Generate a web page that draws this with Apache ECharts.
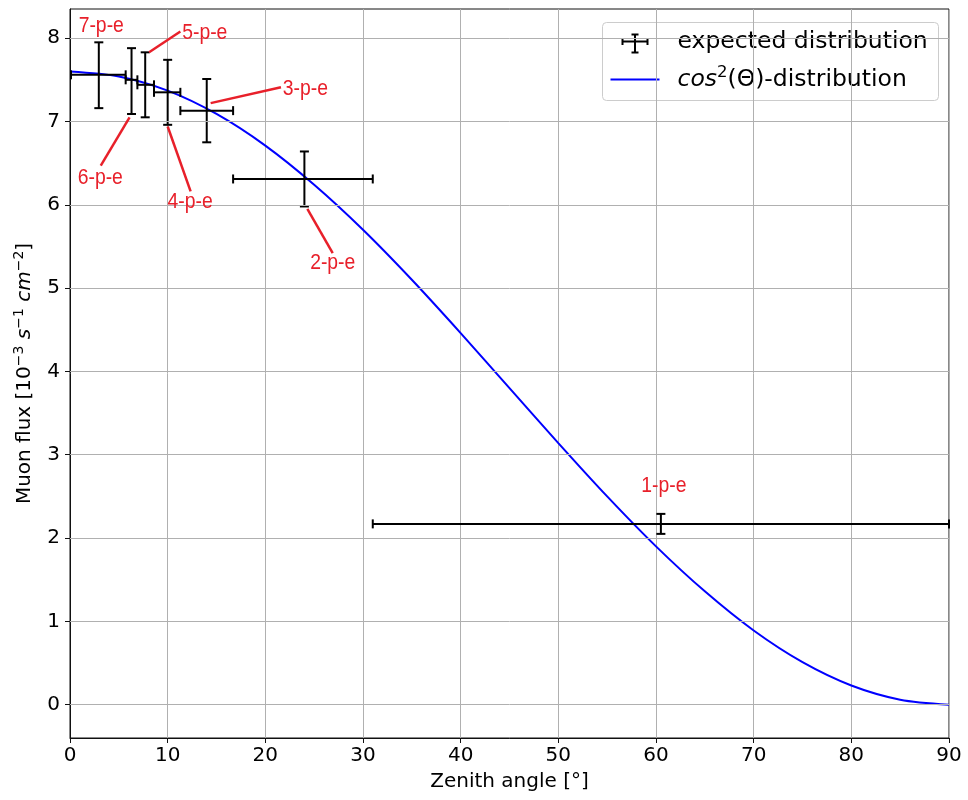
<!DOCTYPE html>
<html>
<head>
<meta charset="utf-8">
<script src="https://cdn.jsdelivr.net/npm/echarts@6/dist/echarts.min.js"></script>
<style>
  html, body { margin: 0; background: #fff; }
  #chart { width: 968px; height: 800px; }
</style>
</head>
<body>
<div id="chart"></div>
<script>
// cos^2 curve, every 5 degrees
const curveAngle = [0, 5, 10, 15, 20, 25, 30, 35, 40, 45, 50, 55, 60, 65, 70, 75, 80, 85, 90];
const curveFlux = [7.60, 7.54, 7.37, 7.09, 6.71, 6.24, 5.70, 5.10, 4.46, 3.80, 3.14, 2.50, 1.90, 1.36, 0.89, 0.51, 0.23, 0.06, 0.00];

// measured points (1-p-e ... 7-p-e)
const peLabels = ['1-p-e', '2-p-e', '3-p-e', '4-p-e', '5-p-e', '6-p-e', '7-p-e'];
const angle = [60.5, 24.0, 14.0, 10.0, 7.7, 6.3, 2.95];
const angleLow = [31.0, 16.7, 11.3, 8.6, 6.9, 5.7, 0.1];
const angleHigh = [90.0, 31.0, 16.7, 11.3, 8.6, 6.9, 5.7];
const flux = [2.17, 6.31, 7.13, 7.35, 7.44, 7.50, 7.56];
const fluxLow = [2.05, 5.98, 6.75, 6.96, 7.05, 7.09, 7.16];
const fluxHigh = [2.29, 6.64, 7.51, 7.74, 7.83, 7.88, 7.95];

// annotation text positions and pointer lines (data coords)
const labelAt = [[60.8, 2.62], [26.9, 5.30], [24.1, 7.39], [12.3, 6.03], [13.8, 8.06], [3.1, 6.32], [3.2, 8.15]];
const pointerFrom = [null, [26.9, 5.42], [21.6, 7.41], [12.35, 6.16], [11.3, 8.08], [3.15, 6.47], null];
const pointerTo = [null, [24.3, 5.95], [14.4, 7.22], [10.0, 6.94], [8.1, 7.83], [6.1, 7.05], null];

const xTicks = [0, 10, 20, 30, 40, 50, 60, 70, 80, 90];
const yTicks = [0, 1, 2, 3, 4, 5, 6, 7, 8];

const FONT = 'DejaVu Sans';
const RED = '#e8202a';

const errData = angle.map((a, i) => [a, flux[i], angleLow[i], angleHigh[i], fluxLow[i], fluxHigh[i]]);
const annData = peLabels.map((t, i) => [labelAt[i][0], labelAt[i][1], i]);

const chart = echarts.init(document.getElementById('chart'));

chart.setOption({
  animation: false,
  backgroundColor: '#fff',
  grid: {
    left: 70, right: 19, top: 9, bottom: 62,
    show: true, borderColor: '#111', borderWidth: 1, backgroundColor: 'transparent'
  },
  xAxis: {
    type: 'value',
    min: 0, max: 90, interval: 10,
    name: 'Zenith angle [°]',
    nameLocation: 'middle',
    nameGap: 34,
    nameTextStyle: { fontFamily: FONT, fontSize: 20, color: '#000' },
    axisLine: { show: true, onZero: false, lineStyle: { color: '#111', width: 1 } },
    axisTick: { show: true, length: 5, lineStyle: { color: '#111' } },
    axisLabel: { fontFamily: FONT, fontSize: 20, color: '#000', margin: 8 },
    splitLine: { show: true, lineStyle: { color: '#b0b0b0', width: 1 } }
  },
  yAxis: {
    type: 'value',
    min: -0.4, max: 8.35,
    name: '{n|Muon flux [10}{s|−3}{n| }{i|s}{s|−1}{n| }{i|cm}{s|−2}{n|]}',
    nameLocation: 'middle',
    nameRotate: 90,
    nameGap: 32,
    nameTextStyle: {
      rich: {
        n: { fontFamily: FONT, fontSize: 20, color: '#000', lineHeight: 26 },
        i: { fontFamily: FONT, fontSize: 20, fontStyle: 'italic', color: '#000', lineHeight: 26 },
        s: { fontFamily: FONT, fontSize: 14, color: '#000', lineHeight: 14, verticalAlign: 'top' }
      }
    },
    axisLine: { show: true, onZero: false, lineStyle: { color: '#111', width: 1 } },
    axisTick: { show: true, length: 5, customValues: yTicks, lineStyle: { color: '#111' } },
    axisLabel: { fontFamily: FONT, fontSize: 20, color: '#000', margin: 10, customValues: yTicks },
    splitLine: { show: false }
  },
  series: [
    {
      // horizontal grid lines at the y ticks
      type: 'line',
      data: [],
      z: 1,
      silent: true,
      markLine: {
        silent: true,
        symbol: 'none',
        label: { show: false },
        lineStyle: { color: '#b0b0b0', width: 1, type: 'solid' },
        data: yTicks.map(v => ({ yAxis: v }))
      }
    },
    {
      name: 'cos2',
      type: 'line',
      data: curveAngle.map((a, i) => [a, curveFlux[i]]),
      smooth: 0.3,
      showSymbol: false,
      z: 3,
      lineStyle: { color: '#0000ff', width: 2 }
    },
    {
      name: 'expected distribution',
      type: 'custom',
      z: 4,
      data: errData,
      encode: { x: [0, 2, 3], y: [1, 4, 5] },
      renderItem: function (params, api) {
        const c = api.coord([api.value(0), api.value(1)]);
        const l = api.coord([api.value(2), api.value(1)]);
        const r = api.coord([api.value(3), api.value(1)]);
        const b = api.coord([api.value(0), api.value(4)]);
        const t = api.coord([api.value(0), api.value(5)]);
        const cap = 4.5;
        const st = { stroke: '#000', lineWidth: 2 };
        const seg = (x1, y1, x2, y2) => ({ type: 'line', shape: { x1, y1, x2, y2 }, style: st });
        return {
          type: 'group',
          children: [
            seg(l[0], c[1], r[0], c[1]),
            seg(l[0], c[1] - cap, l[0], c[1] + cap),
            seg(r[0], c[1] - cap, r[0], c[1] + cap),
            seg(c[0], t[1], c[0], b[1]),
            seg(c[0] - cap, t[1], c[0] + cap, t[1]),
            seg(c[0] - cap, b[1], c[0] + cap, b[1])
          ]
        };
      }
    },
    {
      name: 'annotations',
      type: 'custom',
      z: 5,
      silent: true,
      clip: false,
      data: annData,
      encode: { x: 0, y: 1 },
      renderItem: function (params, api) {
        const i = api.value(2);
        const p = api.coord([api.value(0), api.value(1)]);
        const children = [{
          type: 'text',
          x: p[0], y: p[1],
          scaleX: 0.9,
          style: {
            x: 0, y: 0, text: peLabels[i],
            align: 'center', verticalAlign: 'middle',
            fill: RED, fontSize: 21.5,
            fontFamily: '"Liberation Sans", Arial, sans-serif'
          }
        }];
        if (pointerFrom[i]) {
          const a = api.coord(pointerFrom[i]);
          const b = api.coord(pointerTo[i]);
          children.push({
            type: 'line',
            shape: { x1: a[0], y1: a[1], x2: b[0], y2: b[1] },
            style: { stroke: RED, lineWidth: 2.5 }
          });
        }
        return { type: 'group', children };
      }
    }
  ],
  graphic: [
    {
      type: 'group',
      left: 602, top: 22,
      z: 100,
      children: [
        {
          type: 'rect',
          shape: { x: 0, y: 0, width: 336, height: 78, r: 4 },
          style: { fill: 'rgba(255,255,255,0.8)', stroke: '#cccccc', lineWidth: 1 }
        },
        // error-bar icon
        { type: 'line', shape: { x1: 20, y1: 19, x2: 45, y2: 19 }, style: { stroke: '#000', lineWidth: 2 } },
        { type: 'line', shape: { x1: 20, y1: 15.5, x2: 20, y2: 22.5 }, style: { stroke: '#000', lineWidth: 2 } },
        { type: 'line', shape: { x1: 45, y1: 15.5, x2: 45, y2: 22.5 }, style: { stroke: '#000', lineWidth: 2 } },
        { type: 'line', shape: { x1: 32.5, y1: 12, x2: 32.5, y2: 30 }, style: { stroke: '#000', lineWidth: 2 } },
        { type: 'line', shape: { x1: 29, y1: 12, x2: 36, y2: 12 }, style: { stroke: '#000', lineWidth: 2 } },
        { type: 'line', shape: { x1: 29, y1: 30, x2: 36, y2: 30 }, style: { stroke: '#000', lineWidth: 2 } },
        {
          type: 'text',
          style: {
            x: 75, y: 19, text: 'expected distribution', verticalAlign: 'middle',
            fontFamily: FONT, fontSize: 23.5, fill: '#000'
          }
        },
        // blue line icon
        { type: 'line', shape: { x1: 8, y1: 57, x2: 57, y2: 57 }, style: { stroke: '#0000ff', lineWidth: 2 } },
        {
          type: 'text',
          style: {
            x: 75, y: 57, verticalAlign: 'middle',
            text: '{i|cos}{s|2}{n|(Θ)-distribution}',
            rich: {
              n: { fontFamily: FONT, fontSize: 23.5, fill: '#000', lineHeight: 30 },
              i: { fontFamily: FONT, fontSize: 23.5, fontStyle: 'italic', fill: '#000', lineHeight: 30 },
              s: { fontFamily: FONT, fontSize: 16.5, fill: '#000', lineHeight: 16, verticalAlign: 'top' }
            }
          }
        }
      ]
    }
  ]
});
</script>
</body>
</html>
